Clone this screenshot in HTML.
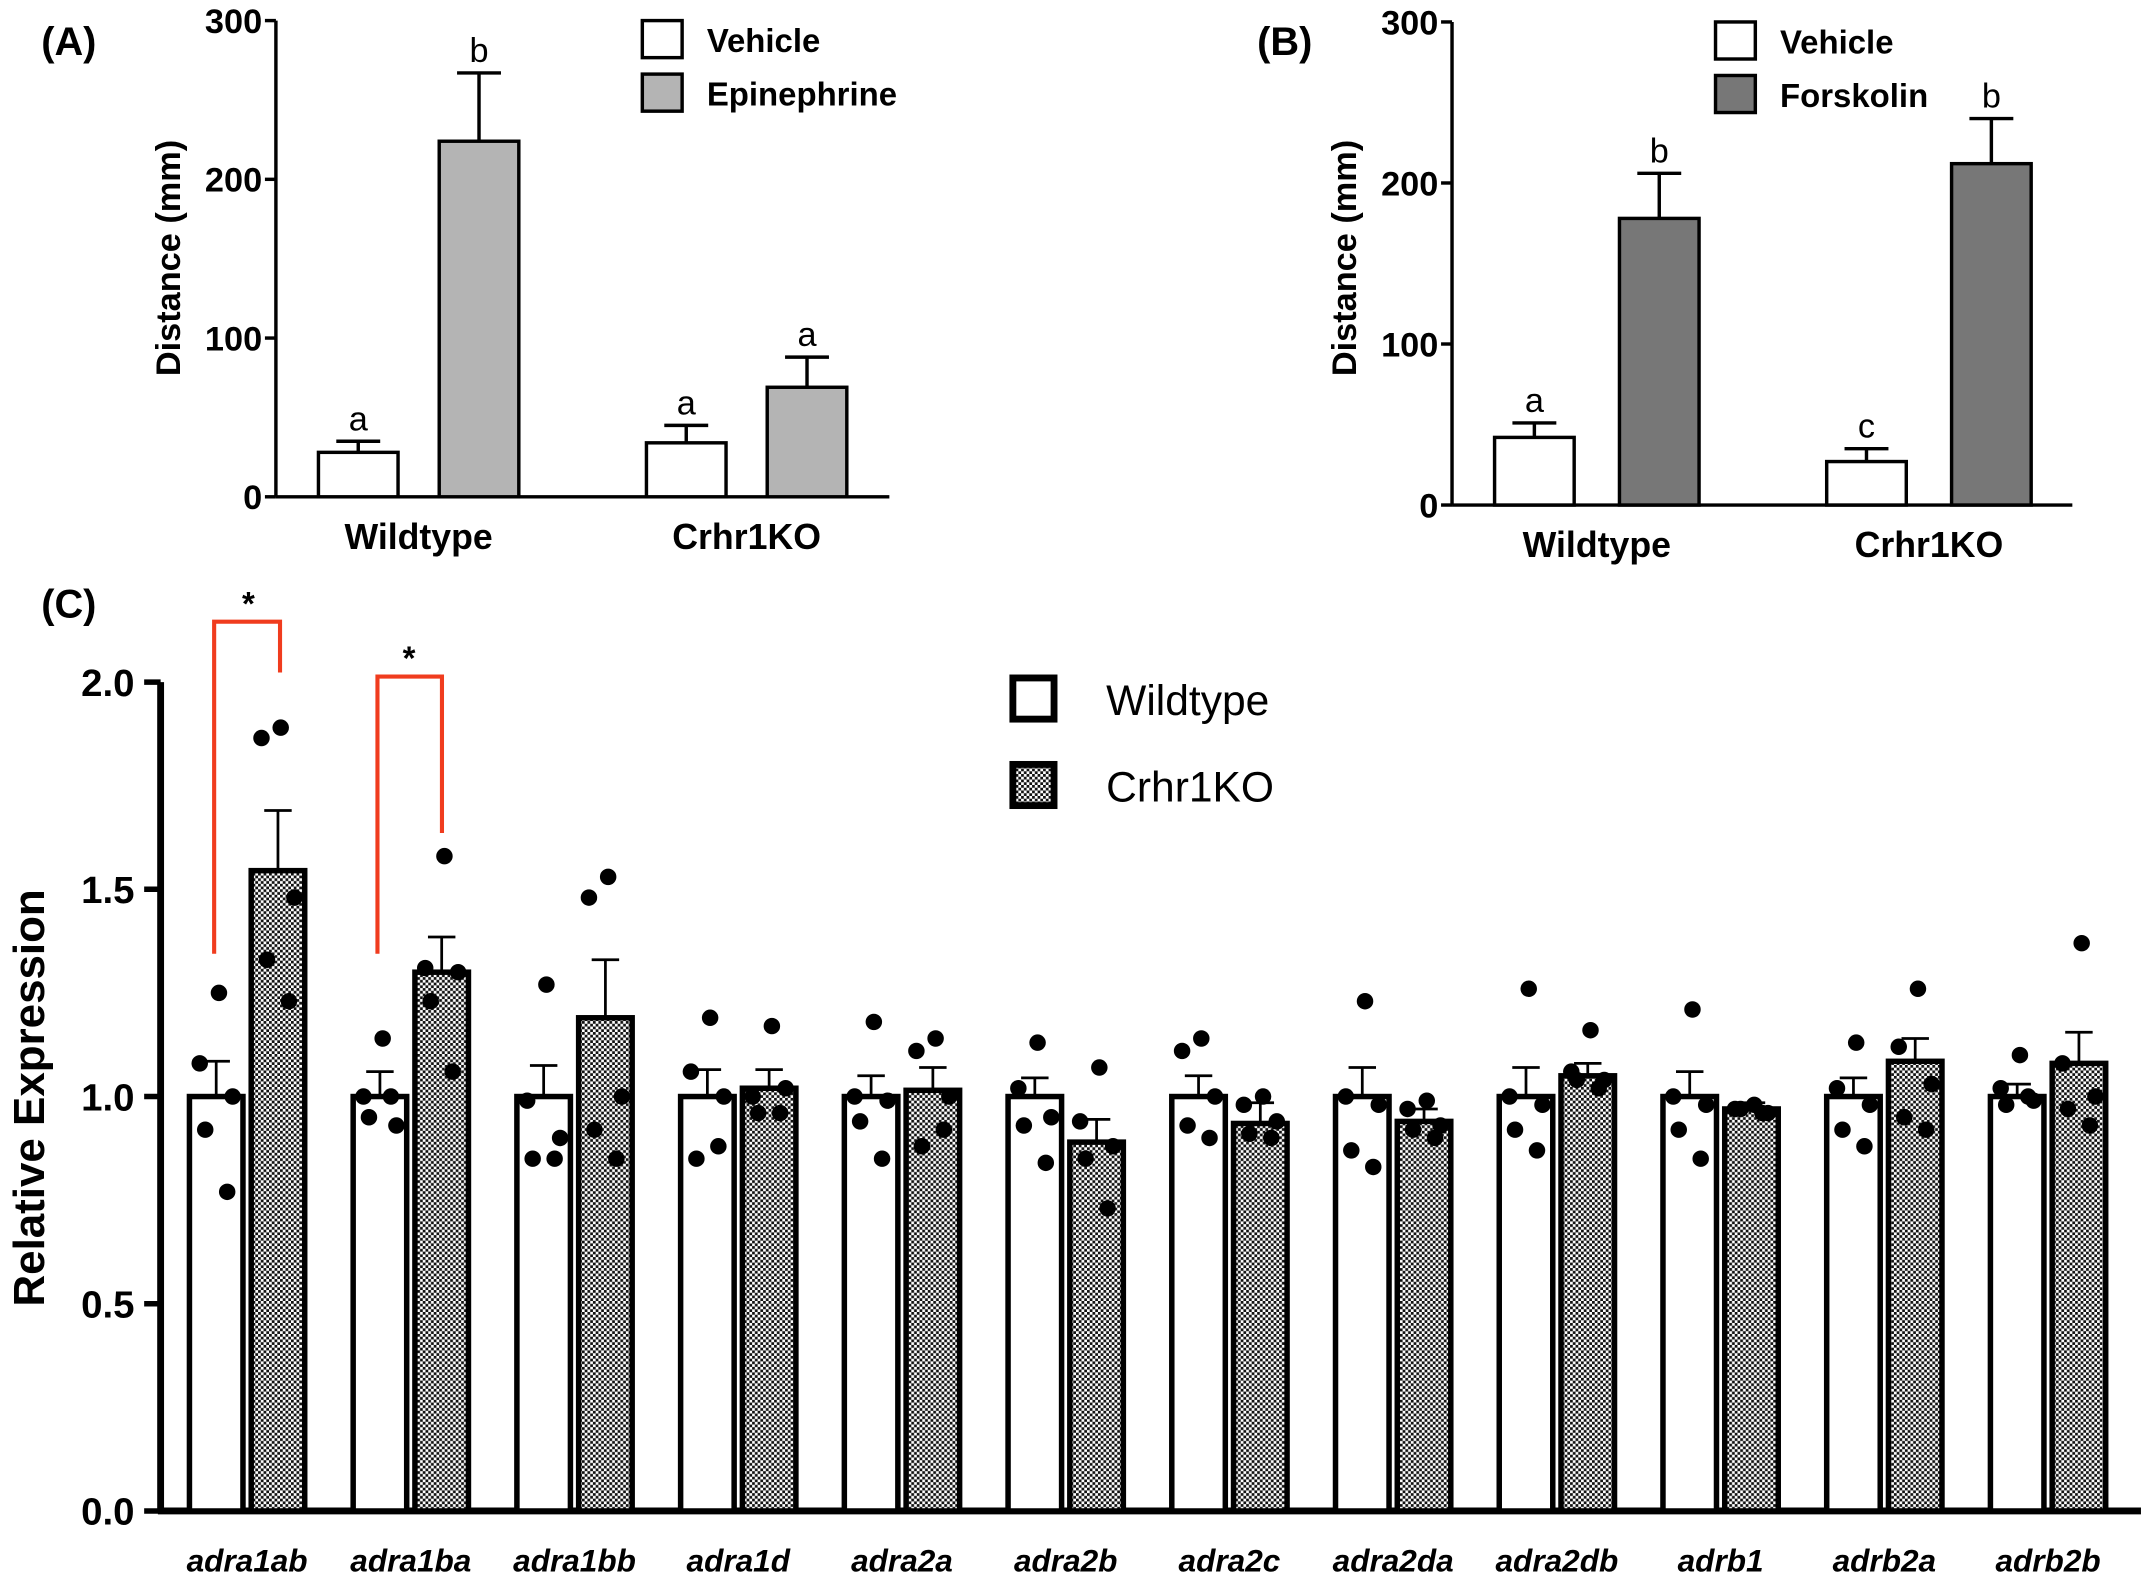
<!DOCTYPE html>
<html><head><meta charset="utf-8"><style>
html,body{margin:0;padding:0;background:#fff}
svg{display:block;font-family:"Liberation Sans",Arial,sans-serif}
</style></head><body>
<svg id="fig" width="2152" height="1584" viewBox="0 0 1568 1154.2" xmlns="http://www.w3.org/2000/svg">
<defs>
<pattern id="chk" width="4" height="4" patternUnits="userSpaceOnUse">
<rect width="4" height="4" fill="#fff"/><rect width="2" height="2" fill="#111"/><rect x="2" y="2" width="2" height="2" fill="#111"/>
</pattern>
</defs>
<g id="pa"></g>
<g id="pb"></g>
<g id="pc"></g>
</svg>
<script>
// Panel A data
const aGroups = ["Wildtype","Crhr1KO"];
const aVehicle = [28, 34];
const aVehicleErr = [35, 45];
const aDrug = [224, 69];
const aDrugErr = [267, 88];
const aLettersVeh = ["a","a"];
const aLettersDrug = ["b","a"];
// Panel B data
const bGroups = ["Wildtype","Crhr1KO"];
const bVehicle = [42, 27];
const bVehicleErr = [51, 35];
const bDrug = [178, 212];
const bDrugErr = [206, 240];
const bLettersVeh = ["a","c"];
const bLettersDrug = ["b","b"];
const abTicks = [0,100,200,300];
// Panel C data
const cGenes = ["adra1ab","adra1ba","adra1bb","adra1d","adra2a","adra2b","adra2c","adra2da","adra2db","adrb1","adrb2a","adrb2b"];
const cWT = [1,1,1,1,1,1,1,1,1,1,1,1];
const cWTErr = [1.085,1.06,1.075,1.065,1.05,1.045,1.05,1.07,1.07,1.06,1.045,1.03];
const cKO = [1.545,1.30,1.19,1.02,1.015,0.89,0.935,0.94,1.05,0.97,1.085,1.08];
const cKOErr = [1.69,1.385,1.33,1.065,1.07,0.945,0.985,0.97,1.08,0.985,1.14,1.155];
const cWTDots = [[1.25,1.08,1.0,0.92,0.77],[1.14,1.0,0.93,0.95,1.0],[1.27,0.99,0.90,0.85,0.85],[1.19,1.06,1.0,0.85,0.88],[1.18,1.0,0.99,0.94,0.85],[1.13,1.02,0.95,0.93,0.84],[1.14,1.11,1.0,0.93,0.90],[1.23,1.0,0.98,0.87,0.83],[1.26,1.0,0.98,0.92,0.87],[1.21,1.0,0.98,0.92,0.85],[1.13,1.02,0.98,0.92,0.88],[1.1,1.02,0.99,0.98,1.0]];
const cKODots = [[1.89,1.865,1.48,1.33,1.23],[1.58,1.31,1.3,1.23,1.06],[1.53,1.48,1.0,0.92,0.85],[1.17,1.0,1.02,0.96,0.96],[1.14,1.11,1.0,0.88,0.92],[1.07,0.94,0.88,0.85,0.73],[1.0,0.98,0.94,0.91,0.90],[0.99,0.97,0.93,0.92,0.90],[1.16,1.06,1.04,1.04,1.02],[0.98,0.97,0.96,0.97,0.96],[1.26,1.12,1.03,0.95,0.92],[1.37,1.08,1.0,0.97,0.93]];
const cTicks = [0,0.5,1.0,1.5,2.0];

const NS="http://www.w3.org/2000/svg";
function mk(parent,tag,attrs,text){const e=document.createElementNS(NS,tag);for(const k in attrs)e.setAttribute(k,attrs[k]);if(text!==undefined)e.textContent=text;parent.appendChild(e);return e;}

function panelAB(g,cfg){
  const y=v=>cfg.y0-(v/300)*(cfg.y0-cfg.y300);
  const ax=mk(g,'g',{});
  
  mk(ax,'line',{x1:cfg.ax,y1:y(300),x2:cfg.ax,y2:cfg.y0,stroke:'#000','stroke-width':2.5});
  abTicks.forEach(t=>{
    mk(ax,'line',{x1:cfg.ax-8,y1:y(t),x2:cfg.ax,y2:y(t),stroke:'#000','stroke-width':2.5});
    const tl=mk(ax,'text',{x:cfg.ax-10,y:y(t)+9,'text-anchor':'end','font-size':25,'font-weight':'bold'},t);
    
  });
  const xa=mk(g,'line',{x1:cfg.ax,y1:cfg.y0,x2:cfg.axEnd,y2:cfg.y0,stroke:'#000','stroke-width':2.5});
  
  const yt=mk(g,'text',{x:0,y:0,transform:`translate(${cfg.ytx},${cfg.yty}) rotate(-90)`,'text-anchor':'middle','font-size':25,'font-weight':'bold'},'Distance (mm)');
  
  const lb=mk(g,'text',{x:cfg.lx,y:cfg.ly,'font-size':29,'font-weight':'bold'},cfg.label);
  
  cfg.groups.forEach((gn,i)=>{
    const series=[[cfg.veh[i],cfg.vehErr[i],'#fff',cfg.lv[i],0],[cfg.drug[i],cfg.drugErr[i],cfg.fill,cfg.ld[i],1]];
    series.forEach(([v,e,f,l,k])=>{
      const x=cfg.x0+i*cfg.gs+k*cfg.off, w=58;
      const b=mk(g,'rect',{x:x,y:y(v),width:w,height:cfg.y0-y(v),fill:f,stroke:'#000','stroke-width':2.5});
      
      mk(g,'line',{x1:x+w/2,y1:y(v),x2:x+w/2,y2:y(e),stroke:'#000','stroke-width':2.5});
      mk(g,'line',{x1:x+w/2-16,y1:y(e),x2:x+w/2+16,y2:y(e),stroke:'#000','stroke-width':2.5});
      const lt=mk(g,'text',{x:x+w/2,y:y(e)-8,'text-anchor':'middle','font-size':25},l);
      
    });
    const cl=mk(g,'text',{x:cfg.x0+i*cfg.gs+(cfg.off+58)/2,y:cfg.y0+38,'text-anchor':'middle','font-size':26,'font-weight':'bold'},gn);
    
  });
  [['Vehicle','#fff',0],[cfg.drugName,cfg.fill,1]].forEach(([n,f,k])=>{
    const le=mk(g,'g',{});
    
    mk(le,'rect',{x:cfg.legx,y:cfg.legy+k*39,width:29,height:27,fill:f,stroke:'#000','stroke-width':2.5});
    mk(le,'text',{x:cfg.legx+47,y:cfg.legy+k*39+23,'font-size':24,'font-weight':'bold'},n);
  });
}
panelAB(document.getElementById('pa'),{ax:201,axEnd:648,y0:362,y300:15,x0:232,gs:239,off:88,groups:aGroups,veh:aVehicle,vehErr:aVehicleErr,drug:aDrug,drugErr:aDrugErr,lv:aLettersVeh,ld:aLettersDrug,fill:'#b4b4b4',drugName:'Epinephrine',ytx:131,yty:188,lx:30,ly:40,label:'(A)',legx:468,legy:15});
panelAB(document.getElementById('pb'),{ax:1058,axEnd:1510,y0:368,y300:16,x0:1089,gs:242,off:91,groups:bGroups,veh:bVehicle,vehErr:bVehicleErr,drug:bDrug,drugErr:bDrugErr,lv:bLettersVeh,ld:bLettersDrug,fill:'#777',drugName:'Forskolin',ytx:988,yty:188,lx:916,ly:40,label:'(B)',legx:1250,legy:16});

// Panel C
(function(){
  const g=document.getElementById('pc');
  const y0=1101,y2=497;
  const y=v=>y0-(v/2)*(y0-y2);
  const X0=138,GS=119.3,W=39,OFF=45;
  const ax=mk(g,'g',{});
  
  mk(ax,'line',{x1:117,y1:y(2),x2:117,y2:y0,stroke:'#000','stroke-width':5});
  cTicks.forEach(t=>{
    mk(ax,'line',{x1:105,y1:y(t),x2:117,y2:y(t),stroke:'#000','stroke-width':4});
    const tl=mk(ax,'text',{x:98,y:y(t)+10,'text-anchor':'end','font-size':28,'font-weight':'bold'},t.toFixed(1));
    
  });
  const xa=mk(g,'line',{x1:115,y1:y0,x2:1560,y2:y0,stroke:'#000','stroke-width':5});
  
  const yt=mk(g,'text',{x:0,y:0,transform:'translate(32,800) rotate(-90)','text-anchor':'middle','font-size':32,'font-weight':'bold'},'Relative Expression');
  
  const lb=mk(g,'text',{x:30,y:450,'font-size':29,'font-weight':'bold'},'(C)');
  
  cGenes.forEach((gn,i)=>{
    [[cWT[i],cWTErr[i],'#fff',cWTDots[i],0],[cKO[i],cKOErr[i],'url(#chk)',cKODots[i],1]].forEach(([v,e,f,dots,k])=>{
      const x=X0+i*GS+k*OFF, cx=x+W/2;
      const b=mk(g,'rect',{x:x,y:y(v),width:W,height:y0-y(v),fill:f,stroke:'#000','stroke-width':4});
      
      mk(g,'line',{x1:cx,y1:y(v),x2:cx,y2:y(e),stroke:'#000','stroke-width':2});
      mk(g,'line',{x1:cx-10,y1:y(e),x2:cx+10,y2:y(e),stroke:'#000','stroke-width':2});
      const offs=[2,-12,12,-8,8];
      dots.forEach((d,j)=>{
        const p=mk(g,'circle',{cx:cx+offs[j],cy:y(d),r:6,fill:'#000'});
        
      });
    });
    const cl=mk(g,'text',{x:X0+i*GS+(OFF+W)/2,y:1145,'text-anchor':'middle','font-size':23,'font-weight':'bold','font-style':'italic'},gn);
    
  });
  const br1=mk(g,'path',{d:'M156 695 V453 H204 V490',fill:'none',stroke:'#f03c1e','stroke-width':3});
  
  const br2=mk(g,'path',{d:'M275 695 V493 H322 V607',fill:'none',stroke:'#f03c1e','stroke-width':3});
  
  const s1=mk(g,'text',{x:181,y:448,'text-anchor':'middle','font-size':24,'font-weight':'bold'},'*');
  
  const s2=mk(g,'text',{x:298,y:488,'text-anchor':'middle','font-size':24,'font-weight':'bold'},'*');
  
  [['Wildtype','#fff',0],['Crhr1KO','url(#chk)',1]].forEach(([n,f,k])=>{
    const le=mk(g,'g',{});
    
    mk(le,'rect',{x:738,y:494+k*63,width:30,height:30,fill:f,stroke:'#000','stroke-width':5});
    mk(le,'text',{x:806,y:521+k*63,'font-size':31},n);
  });
})();
</script>
</body></html>
